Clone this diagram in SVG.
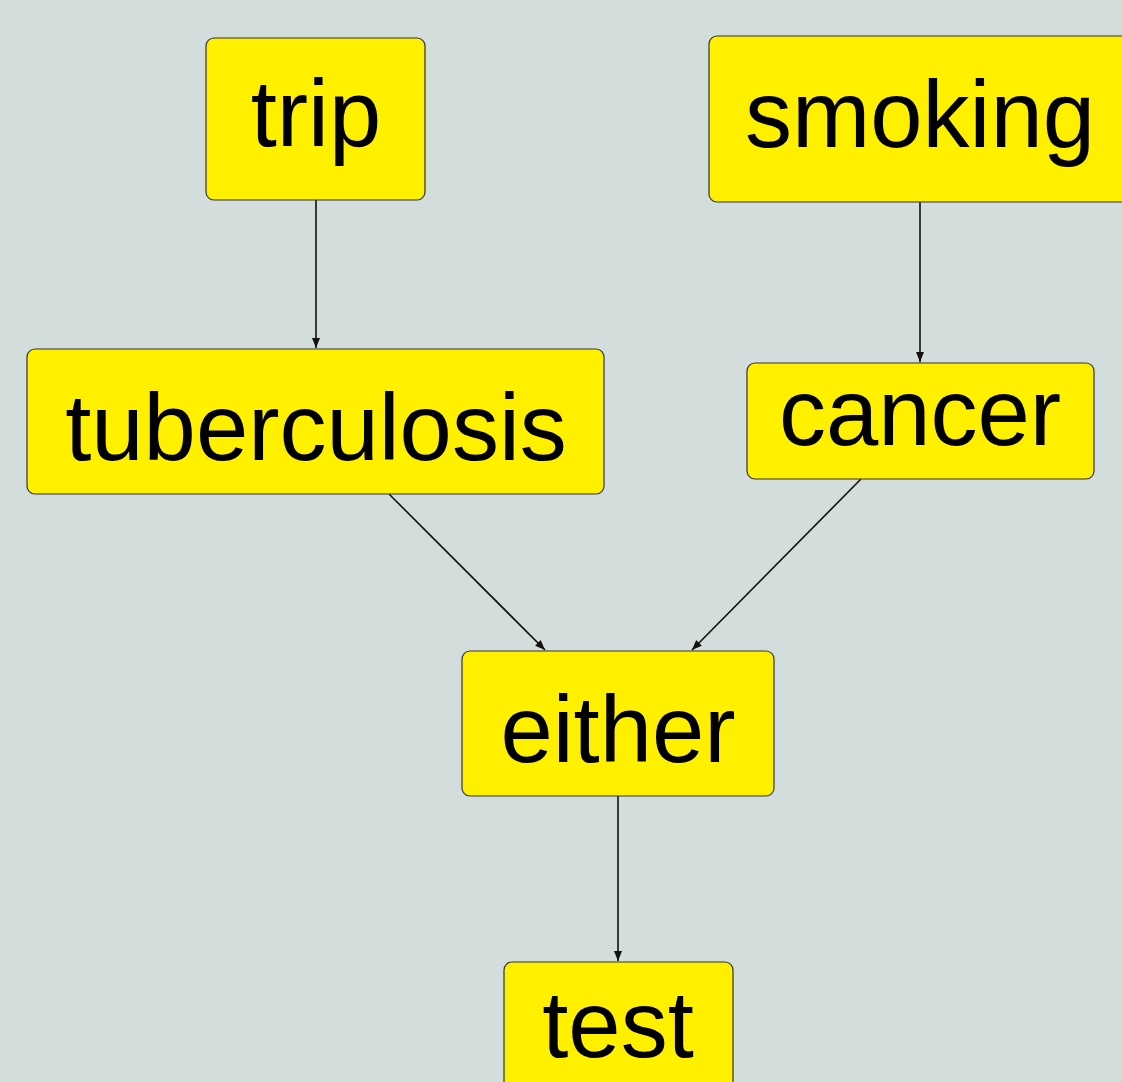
<svg xmlns="http://www.w3.org/2000/svg" width="1122" height="1082" viewBox="0 0 1122 1082">
<style>
.box{fill:#FFF000;stroke:#333;stroke-width:1.2}
.lbl{font-family:"Liberation Sans","DejaVu Sans",sans-serif;font-size:94px;fill:#000;text-anchor:middle}
.edge{stroke:#111;stroke-width:1.6;fill:none;marker-end:url(#arr)}
</style>
<defs>
<marker id="arr" viewBox="0 0 10 8" refX="10" refY="4" markerWidth="10" markerHeight="8" markerUnits="userSpaceOnUse" orient="auto">
<path d="M0,0 L10,4 L0,8 Z" fill="#111"/>
</marker>
</defs>
<rect width="1122" height="1082" fill="#D3DDDC"/>
<g id="connectors">
<line class="edge" x1="316" y1="200" x2="316" y2="348"/>
<line class="edge" x1="920" y1="202" x2="920" y2="362"/>
<line class="edge" x1="389" y1="494" x2="545" y2="650"/>
<line class="edge" x1="861" y1="479" x2="692" y2="650"/>
<line class="edge" x1="618" y1="796" x2="618" y2="961"/>
</g>
<g id="trip"><rect class="box" x="206" y="38" width="219" height="162" rx="8"/><text class="lbl" x="316" y="146">trip</text></g>
<g id="smoking"><rect class="box" x="709" y="36" width="421" height="166" rx="8"/><text class="lbl" x="920" y="147">smoking</text></g>
<g id="tuberculosis"><rect class="box" x="27" y="349" width="577" height="145" rx="8"/><text class="lbl" x="316" y="460">tuberculosis</text></g>
<g id="cancer"><rect class="box" x="747" y="363" width="347" height="116" rx="8"/><text class="lbl" x="920" y="445">cancer</text></g>
<g id="either"><rect class="box" x="462" y="651" width="312" height="145" rx="8"/><text class="lbl" x="618" y="762">either</text></g>
<g id="test"><rect class="box" x="504" y="962" width="229" height="160" rx="8"/><text class="lbl" x="618" y="1057">test</text></g>
</svg>
